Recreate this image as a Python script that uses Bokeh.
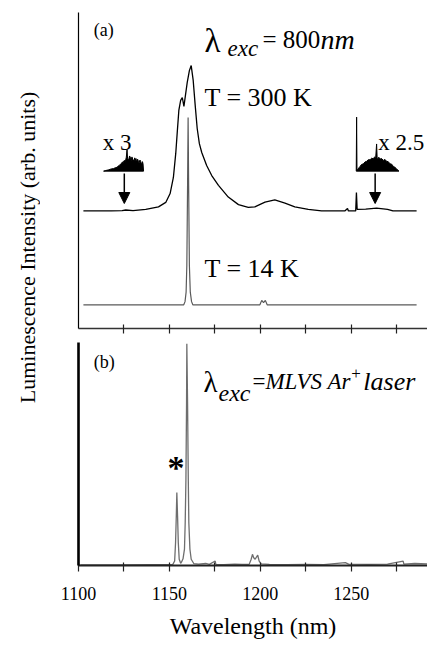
from bokeh.plotting import figure
from bokeh.models import Range1d, FixedTicker, Label, Arrow, NormalHead
from bokeh.layouts import row, column
from bokeh.embed import file_html
from bokeh.resources import INLINE

# ---------------- data ----------------
# (a) T = 300 K, 800 nm excitation (arb. units, offset trace)
wl_300K = [1102.7, 1118.0, 1124.0, 1126.0, 1130.0, 1137.0, 1144.0, 1148.0, 1150.4, 1152.2,
           1153.5, 1154.4, 1155.2, 1156.2, 1157.1, 1158.0, 1159.8, 1161.0, 1162.0, 1163.1,
           1164.2, 1165.3, 1166.5, 1167.8, 1170.5, 1173.3, 1177.0, 1182.4, 1188.0, 1193.4,
           1197.0, 1202.6, 1208.0, 1213.6, 1219.0, 1226.4, 1233.7, 1246.5, 1248.0, 1248.5,
           1252.5, 1252.9, 1253.3, 1258.0, 1264.0, 1270.0, 1273.0, 1286.0]
int_300K = [37.2, 37.2, 37.3, 37.5, 37.3, 37.7, 38.5, 39.9, 42.7, 47.8,
            55.4, 62.7, 69.0, 72.2, 73.1, 70.3, 77.8, 81.6, 83.2, 78.5,
            70.6, 63.3, 58.5, 55.7, 51.6, 48.4, 45.3, 41.6, 39.2, 38.3,
            38.5, 40.0, 40.7, 39.7, 38.5, 37.7, 37.2, 37.2, 38.0, 37.2,
            37.2, 43.0, 37.7, 37.8, 38.1, 37.7, 37.2, 37.2]

# (a) T = 14 K
wl_14K = [1102.7, 1157.9, 1158.6, 1159.2, 1159.6, 1160.0, 1160.3, 1160.6, 1161.0, 1161.5,
          1162.2, 1162.9, 1199.8, 1200.8, 1201.8, 1202.8, 1203.8, 1286.0]
int_14K = [7.5, 7.5, 8.5, 11.5, 20.0, 45.0, 66.8, 45.0, 20.0, 11.5,
           8.5, 7.5, 7.5, 8.9, 8.2, 8.9, 7.5, 7.5]

# (a) magnified insets: x 3 (short-wavelength tail) and x 2.5 (long-wavelength tail)
wl_x3 = [1113.8, 1115.0, 1116.6, 1118.0, 1119.3, 1120.3, 1121.2, 1122.0, 1122.5, 1123.0,
         1123.6, 1124.1, 1124.5, 1125.2, 1125.8, 1126.3, 1126.7, 1127.0, 1127.6, 1128.1,
         1128.5, 1129.0, 1129.4, 1129.8, 1130.5, 1130.9, 1131.2, 1131.6, 1132.0, 1132.4,
         1132.7, 1133.1, 1133.4, 1133.8, 1134.2, 1134.6, 1134.9, 1135.2, 1135.5, 1135.8]
int_x3 = [49.8, 50.0, 50.2, 50.5, 50.6, 50.9, 51.0, 51.5, 51.6, 52.0,
          52.1, 52.7, 52.5, 53.2, 52.9, 54.2, 56.6, 53.7, 53.4, 54.6,
          54.2, 53.2, 54.3, 53.6, 52.9, 54.0, 53.2, 53.8, 52.6, 53.6,
          53.4, 52.4, 52.5, 53.3, 52.9, 52.0, 52.3, 52.8, 52.1, 49.8]
wl_x25 = [1252.8, 1253.0, 1253.2, 1253.6, 1254.3, 1254.9, 1255.7, 1256.7, 1257.6, 1258.5,
          1259.4, 1260.4, 1261.3, 1262.2, 1262.9, 1263.5, 1264.0, 1264.3, 1264.6, 1265.2,
          1265.9, 1266.7, 1267.7, 1268.6, 1269.5, 1270.4, 1271.4, 1272.3, 1273.2, 1274.1,
          1275.0, 1276.3]
int_x25 = [49.8, 66.9, 50.2, 50.3, 50.9, 51.3, 51.9, 52.1, 52.7, 52.9,
           53.4, 53.4, 53.9, 53.7, 54.3, 54.0, 58.4, 53.9, 53.6, 54.2,
           53.6, 53.8, 53.2, 53.5, 52.9, 52.8, 52.1, 52.0, 51.3, 51.0,
           50.5, 49.8]

# (b) MLVS Ar+ laser excitation
wl_b = [1101.0, 1120.0, 1140.0, 1150.0, 1151.9, 1152.9, 1153.4, 1153.8, 1154.1, 1154.5,
        1154.9, 1155.4, 1156.2, 1156.7, 1157.5, 1158.3, 1158.7, 1159.1, 1159.45, 1159.6,
        1160.0, 1160.4, 1160.7, 1161.3, 1162.0, 1163.5, 1166.0, 1170.0, 1172.0, 1175.2,
        1175.6, 1180.0, 1186.0, 1190.0, 1193.9, 1195.0, 1195.7, 1196.4, 1197.2, 1197.9,
        1198.6, 1199.4, 1200.5, 1205.0, 1215.0, 1225.0, 1235.0, 1246.8, 1248.6, 1260.0,
        1270.0, 1278.6, 1279.0, 1285.0, 1292.0]
int_b = [0.3, 0.3, 0.4, 0.4, 0.5, 2.0, 10.3, 22.2, 32.7, 22.2,
         10.3, 2.8, 1.0, 1.6, 3.0, 7.3, 19.2, 38.7, 73.2, 99.4,
         73.2, 38.7, 19.2, 7.3, 2.8, 0.8, 0.6, 0.9, 0.5, 2.0,
         0.4, 0.4, 0.6, 0.5, 0.5, 2.8, 5.0, 3.5, 2.8, 3.8,
         4.6, 2.0, 0.7, 0.5, 0.4, 0.5, 0.4, 1.3, 0.6, 0.5,
         0.6, 2.0, 0.6, 0.9, 0.7]

minor_ticks = [1125, 1150, 1175, 1200, 1225, 1250, 1275]
label_ticks = [1100, 1150, 1200, 1250]
label_minor = [1125, 1175, 1225, 1275]

# ---------------- styling helpers ----------------
SERIF = "Liberation Serif"
X0, X1 = 1100, 1292

def tx(xi):          # picture x -> wavelength
    return 1100 + (xi - 77.8) / 1.82

def ty_top(yi):      # picture y -> top panel units
    return (328 - yi) / 3.16

def ty_bot(yi):      # picture y -> bottom panel units
    return (565 - yi) / 2.23

def lab(p, x, y, text, size, style="normal", align="left", baseline="alphabetic", **kw):
    p.add_layout(Label(x=x, y=y, text=text, text_font=SERIF, text_font_size=size,
                       text_font_style=style, text_align=align, text_baseline=baseline,
                       text_color="black", **kw))

def base_fig(height, bt, bb):
    p = figure(width=387, height=height, x_range=Range1d(X0, X1), y_range=Range1d(0, 100),
               output_backend="svg", toolbar_location=None,
               min_border_left=38, min_border_right=0, min_border_top=bt, min_border_bottom=bb)
    p.grid.visible = False
    p.outline_line_color = None
    p.background_fill_color = "white"
    p.border_fill_color = "white"
    p.yaxis.ticker = FixedTicker(ticks=[])
    p.yaxis.major_tick_line_color = None
    p.yaxis.minor_tick_line_color = None
    p.yaxis.axis_line_color = "black"
    return p

# ---------------- top panel (a) ----------------
top = base_fig(338, 12, 10)
top.yaxis.axis_line_width = 1.2
top.xaxis.ticker = FixedTicker(ticks=[], minor_ticks=minor_ticks)
top.xaxis.axis_line_color = "#333333"
top.xaxis.axis_line_width = 1.5
top.xaxis.minor_tick_line_color = "#222222"
top.xaxis.minor_tick_line_width = 1.2
top.xaxis.minor_tick_in = 4
top.xaxis.minor_tick_out = 5

top.line(wl_14K, int_14K, line_color="#5a5a5a", line_width=1.2)
top.line(wl_300K, int_300K, line_color="black", line_width=1.3)
top.patch(wl_x3, int_x3, fill_color="black", line_color="black", line_width=1)
top.patch(wl_x25, int_x25, fill_color="black", line_color="black", line_width=1)

for xa in (1125.2, 1263.2):
    top.add_layout(Arrow(end=NormalHead(size=11, fill_color="black", line_color="black"),
                         x_start=xa, y_start=ty_top(173), x_end=xa, y_end=ty_top(203),
                         line_color="black", line_width=1.5))

lab(top, tx(93), ty_top(29), "(a)", "18px", baseline="middle")
lab(top, tx(204), ty_top(40), "λ", "33px")
lab(top, tx(227), ty_top(48), "exc", "23px", style="italic")
lab(top, tx(262), ty_top(39), "= 800", "25px")
lab(top, tx(320), ty_top(39), "nm", "28px", style="italic")
lab(top, tx(204), ty_top(97), "T = 300 K", "26px")
lab(top, tx(204), ty_top(268), "T = 14 K", "26px")
lab(top, tx(102), ty_top(142), "x 3", "23px")
lab(top, tx(378), ty_top(142), "x 2.5", "23px")

# ---------------- bottom panel (b) ----------------
bot = base_fig(307, 4, 80)
bot.yaxis.axis_line_width = 2.6
bot.xaxis.ticker = FixedTicker(ticks=label_ticks, minor_ticks=label_minor)
bot.xaxis.axis_line_color = "#222222"
bot.xaxis.axis_line_width = 2
for k in ("major", "minor"):
    setattr(bot.xaxis, f"{k}_tick_line_color", "#222222")
    setattr(bot.xaxis, f"{k}_tick_line_width", 1.2)
    setattr(bot.xaxis, f"{k}_tick_in", 3)
    setattr(bot.xaxis, f"{k}_tick_out", 6)
bot.xaxis.major_label_text_font = SERIF
bot.xaxis.major_label_text_font_size = "18px"
bot.xaxis.major_label_text_color = "black"
bot.xaxis.major_label_standoff = 15
bot.xaxis.axis_label = "Wavelength (nm)"
bot.xaxis.axis_label_text_font = SERIF
bot.xaxis.axis_label_text_font_size = "24px"
bot.xaxis.axis_label_text_font_style = "normal"
bot.xaxis.axis_label_text_color = "black"
bot.xaxis.axis_label_standoff = 10

bot.line(wl_b, int_b, line_color="#6e6e6e", line_width=1.3)

lab(bot, tx(93), ty_bot(361.5), "(b)", "18px", baseline="middle")
lab(bot, tx(203), ty_bot(381), "λ", "29px")
lab(bot, tx(218), ty_bot(392), "exc", "24px", style="italic")
lab(bot, tx(252), ty_bot(381), "=", "23px")
lab(bot, tx(265), ty_bot(381), "MLVS Ar", "23px", style="italic")
lab(bot, tx(351), ty_bot(373), "+", "17px")
lab(bot, tx(363), ty_bot(381), "laser", "26px", style="italic")
lab(bot, tx(175.5), ty_bot(467), "*", "34px", style="bold", align="center")

# ---------------- shared y label ----------------
ylab = figure(width=40, height=490, x_range=Range1d(0, 40), y_range=Range1d(0, 490),
              output_backend="svg", toolbar_location=None, min_border=0,
              x_axis_location=None, y_axis_location=None)
ylab.grid.visible = False
ylab.outline_line_color = None
ylab.add_layout(Label(x=26.7, y=243, text="Luminescence Intensity (arb. units)", angle=90,
                      angle_units="deg", text_font=SERIF, text_font_size="22px",
                      text_align="center", text_baseline="alphabetic", text_color="black"))

layout = row(ylab, column(top, bot))
open("out.html", "w").write(file_html(layout, INLINE))
